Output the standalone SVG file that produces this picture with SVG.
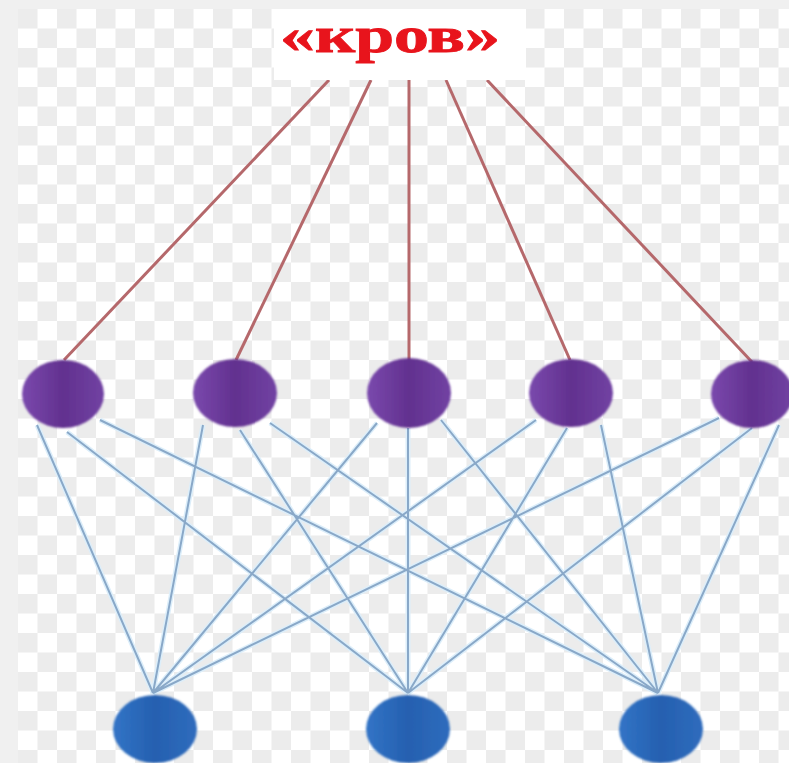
<svg xmlns="http://www.w3.org/2000/svg" width="789" height="763" viewBox="0 0 789 763">
  <defs>
    <pattern id="checker" x="18" y="9" width="39" height="39" patternUnits="userSpaceOnUse">
      <rect width="39" height="39" fill="#ffffff"/>
      <rect x="0" y="0" width="19.5" height="19.5" fill="#ececec"/>
      <rect x="19.5" y="19.5" width="19.5" height="19.5" fill="#ececec"/>
    </pattern>
    <linearGradient id="purpleFill" x1="0" y1="0" x2="1" y2="0">
      <stop offset="0" stop-color="#7a49ad"/>
      <stop offset="0.5" stop-color="#62318f"/>
      <stop offset="1" stop-color="#7142a3"/>
    </linearGradient>
    <linearGradient id="blueFill" x1="0" y1="0" x2="1" y2="0">
      <stop offset="0" stop-color="#3274c6"/>
      <stop offset="0.5" stop-color="#2560b0"/>
      <stop offset="1" stop-color="#2f6cbd"/>
    </linearGradient>
    <filter id="soft" x="-20%" y="-20%" width="140%" height="140%">
      <feGaussianBlur stdDeviation="0.9"/>
    </filter>
  </defs>
  <style>
    .red { stroke: #b5686b; stroke-width: 3; fill: none; }
    .halo { stroke: #dceefa; stroke-width: 5; fill: none; }
    .blue { stroke: #89a8c8; stroke-width: 2; fill: none; }
    .mid { fill: url(#purpleFill); filter: url(#soft); }
    .out { fill: url(#blueFill); filter: url(#soft); }
    .title { font-family: "Liberation Serif", "Times New Roman", serif; font-weight: bold; font-size: 50px; fill: #e8141c; stroke: #e8141c; stroke-width: 0.8; }
  </style>

  <!-- backdrop -->
  <rect width="789" height="763" fill="#f0f0f0"/>
  <rect x="18" y="9" width="771" height="754" fill="url(#checker)"/>

  <!-- connectors -->
  <g id="connectors">
    <g id="title-links">
      <line class="red" x1="329" y1="80" x2="64" y2="360"/>
      <line class="red" x1="371" y1="80" x2="236" y2="360"/>
      <line class="red" x1="409" y1="80" x2="409" y2="360"/>
      <line class="red" x1="446" y1="80" x2="570" y2="360"/>
      <line class="red" x1="487" y1="80" x2="752" y2="362"/>
    </g>
    <g id="layer-links-halo">
      <path class="halo" d="M37 425 L153 693 M67 432 L408 693 M100 420 L658 693
        M203 425 L153 693 M240 430 L408 693 M270 423 L658 693
        M377 423 L153 693 M408 428 L408 693 M441 420 L658 693
        M536 420 L153 693 M567 428 L408 693 M601 425 L658 693
        M719 418 L153 693 M752 428 L408 693 M779 425 L658 693"/>
    </g>
    <g id="layer-links">
      <path class="blue" d="M37 425 L153 693 M67 432 L408 693 M100 420 L658 693
        M203 425 L153 693 M240 430 L408 693 M270 423 L658 693
        M377 423 L153 693 M408 428 L408 693 M441 420 L658 693
        M536 420 L153 693 M567 428 L408 693 M601 425 L658 693
        M719 418 L153 693 M752 428 L408 693 M779 425 L658 693"/>
    </g>
  </g>

  <!-- title node -->
  <g id="title">
    <rect x="274" y="9" width="252" height="71" fill="#ffffff"/>
    <text class="title" x="280" y="52" textLength="220" lengthAdjust="spacingAndGlyphs">«кров»</text>
  </g>

  <!-- middle layer -->
  <g id="m1"><ellipse class="mid" cx="63" cy="394" rx="41" ry="34"/></g>
  <g id="m2"><ellipse class="mid" cx="235" cy="393" rx="42" ry="34"/></g>
  <g id="m3"><ellipse class="mid" cx="409" cy="393" rx="42" ry="35"/></g>
  <g id="m4"><ellipse class="mid" cx="571" cy="393" rx="42" ry="34"/></g>
  <g id="m5"><ellipse class="mid" cx="752" cy="394" rx="41" ry="34"/></g>

  <!-- output layer -->
  <g id="o1"><ellipse class="out" cx="155" cy="729" rx="42" ry="34"/></g>
  <g id="o2"><ellipse class="out" cx="408" cy="729" rx="42" ry="34"/></g>
  <g id="o3"><ellipse class="out" cx="661" cy="729" rx="42" ry="34"/></g>
</svg>
